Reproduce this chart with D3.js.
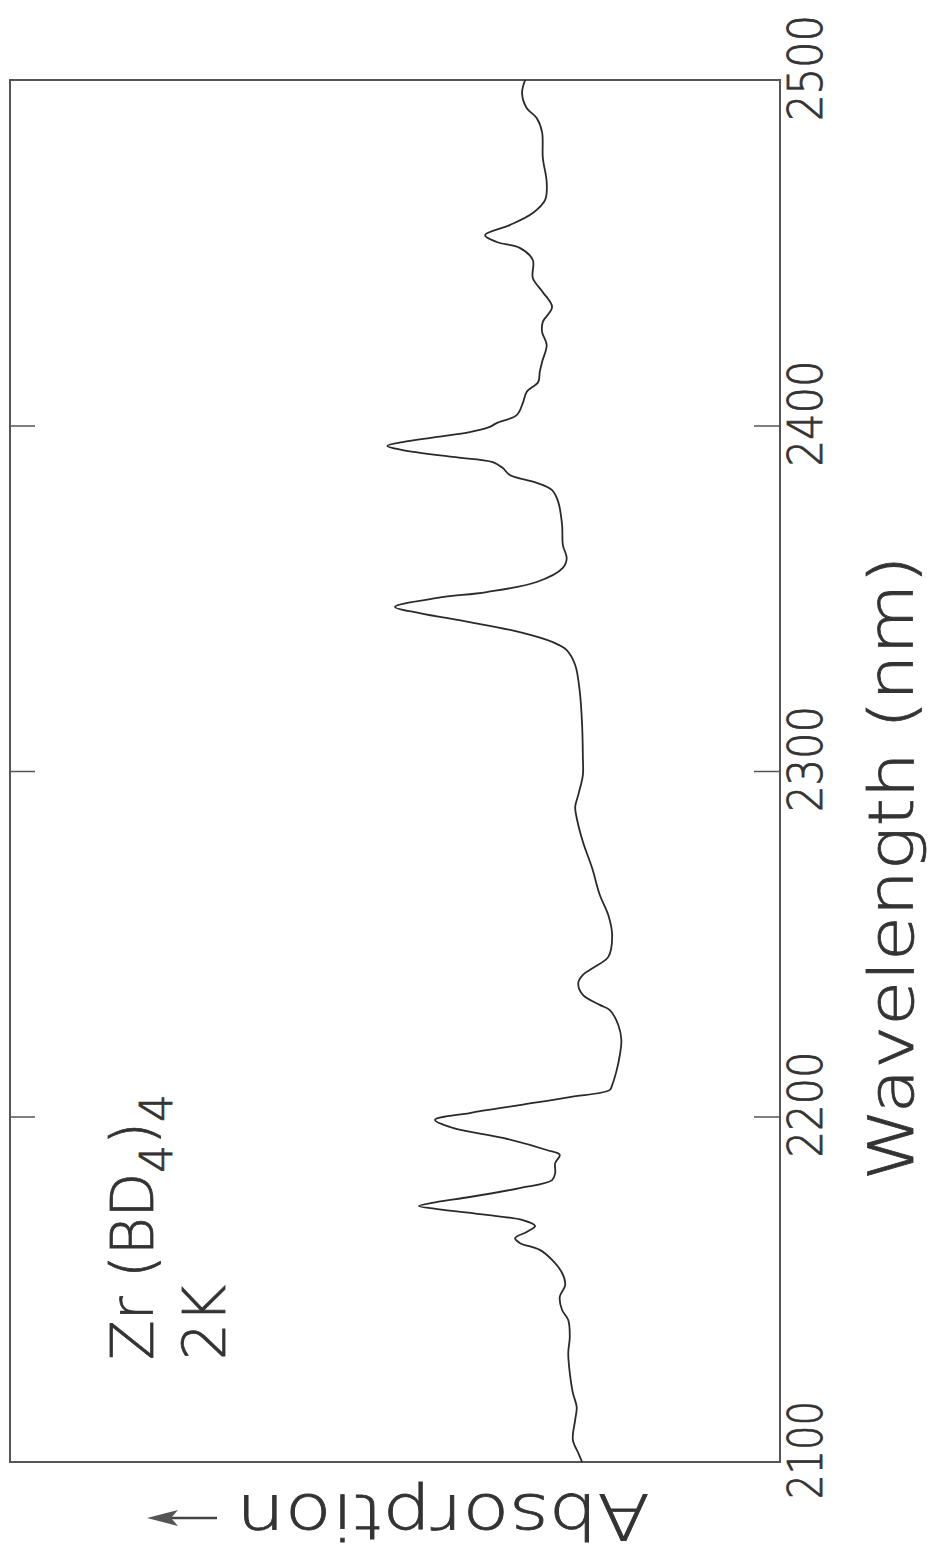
<!DOCTYPE html>
<html lang="en">
<head>
<meta charset="UTF-8">
<title>Zr(BD4)4 2K absorption</title>
<script src="https://d3js.org/d3.v7.min.js"></script>
<style>
  body { margin: 0; background: #fff; }
  svg { display: block; }
  .lbl { font-family: "DejaVu Sans", sans-serif; fill: #333; stroke: #333; stroke-width: 0.8; }
</style>
</head>
<body>
<svg id="chart" width="931" height="1553"></svg>
<script>
// wavelength (nm) and absorption (arb. units, 0-100 across the frame)
const wavelength = [
  2100.0, 2102.6, 2106.4, 2112.2, 2115.9, 2120.0, 2125.8, 2131.5, 2136.2, 2141.1,
  2144.0, 2147.8, 2151.2, 2154.7, 2158.5, 2161.4, 2163.4, 2164.8, 2166.6, 2168.3,
  2170.0, 2171.5, 2173.2, 2174.1, 2175.3, 2176.7, 2179.3, 2181.6, 2183.6, 2186.5,
  2188.9, 2190.3, 2193.8, 2196.7, 2199.0, 2201.0, 2203.3, 2205.6, 2207.7, 2209.1,
  2213.5, 2217.8, 2222.1, 2226.5, 2230.8, 2232.3, 2235.2, 2238.6, 2241.0, 2243.0,
  2246.2, 2252.5, 2258.3, 2264.1, 2271.9, 2279.5, 2286.4, 2289.6, 2293.1, 2298.8,
  2303.8, 2313.3, 2322.9, 2330.7, 2335.0, 2337.3, 2340.2, 2343.1, 2345.7, 2347.5,
  2350.1, 2351.8, 2354.7, 2358.8, 2361.6, 2365.4, 2371.2, 2377.9, 2381.3, 2383.4,
  2385.7, 2387.7, 2389.4, 2390.9, 2392.9, 2394.1, 2395.2, 2396.7, 2398.1, 2399.6,
  2400.7, 2403.0, 2406.5, 2409.7, 2412.6, 2415.5, 2418.4, 2423.3, 2427.1, 2430.0,
  2434.3, 2438.6, 2442.7, 2447.9, 2451.4, 2453.1, 2455.1, 2458.0, 2461.5, 2465.3,
  2470.5, 2477.4, 2484.9, 2489.0, 2491.9, 2496.2, 2500.0
];
const absorption = [
  25.7, 26.2, 26.9, 26.6, 26.4, 26.9, 27.3, 27.5, 27.3, 27.5,
  28.3, 28.6, 27.9, 28.3, 29.6, 31.2, 33.8, 34.4, 32.9, 31.8,
  33.4, 38.1, 44.5, 46.9, 44.5, 40.3, 33.8, 29.6, 29.2, 29.2,
  28.6, 30.3, 36.0, 42.5, 44.8, 40.3, 33.8, 27.3, 22.1, 21.8,
  21.2, 20.8, 20.6, 21.0, 22.1, 23.4, 25.6, 26.2, 25.6, 24.3,
  22.3, 21.8, 22.3, 23.4, 24.4, 25.6, 26.4, 26.6, 26.2, 25.6,
  25.6, 25.7, 26.0, 26.6, 27.7, 29.5, 33.8, 40.3, 46.8, 50.0,
  44.5, 38.1, 31.6, 28.2, 27.7, 28.2, 28.3, 28.8, 29.6, 31.6,
  35.1, 36.0, 37.3, 42.5, 49.0, 51.0, 49.0, 44.5, 40.3, 37.7,
  36.8, 34.2, 33.4, 32.9, 31.4, 31.2, 30.9, 30.3, 30.9, 30.8,
  29.6, 30.8, 32.1, 32.1, 33.8, 36.8, 38.3, 35.1, 32.1, 30.5,
  30.3, 30.8, 30.9, 31.6, 32.9, 33.5, 33.1
];
const tickValues = [2100, 2200, 2300, 2400, 2500];
const innerTicks = [2200, 2300, 2400];
const xTitle = "Wavelength (nm)";
const yTitle = "Absorption";

const svg = d3.select("#chart");

// the figure is printed sideways: wavelength runs bottom->top, absorption grows to the left
const frame = { l: 10, r: 780, t: 80, b: 1462 };
const y = d3.scaleLinear().domain([2100, 2500]).range([frame.b, frame.t]);
const x = d3.scaleLinear().domain([0, 100]).range([frame.r, frame.l]);

// frame
svg.append("rect")
  .attr("x", frame.l).attr("y", frame.t)
  .attr("width", frame.r - frame.l).attr("height", frame.b - frame.t)
  .attr("fill", "none").attr("stroke", "#555").attr("stroke-width", 2);

// inward ticks on both long edges
const tickAxisL = d3.axisRight(y).tickValues(innerTicks).tickSize(25).tickFormat("");
const tickAxisR = d3.axisLeft(y).tickValues(innerTicks).tickSize(26).tickFormat("");
[[tickAxisL, frame.l], [tickAxisR, frame.r]].forEach(([ax, pos]) => {
  const g = svg.append("g").attr("transform", `translate(${pos},0)`).call(ax);
  g.select(".domain").remove();
  g.selectAll("line").attr("stroke", "#555").attr("stroke-width", 1.5);
});

// tick labels, rotated
svg.append("g").selectAll("text")
  .data(tickValues)
  .join("text")
  .attr("class", "lbl")
  .attr("transform", d => `translate(822,${y(d) - 12}) rotate(-90)`)
  .attr("text-anchor", "middle")
  .attr("font-size", 48)
  .attr("font-weight", 300)
  .attr("textLength", d => d === 2100 ? 98 : 106)
  .attr("lengthAdjust", "spacingAndGlyphs")
  .text(d => d);

// spectrum
const pts = wavelength.map((w, i) => [w, absorption[i]]);
const line = d3.line()
  .x(d => x(d[1]))
  .y(d => y(d[0]))
  .curve(d3.curveCatmullRom.alpha(0.5));
svg.append("path")
  .datum(pts)
  .attr("d", line)
  .attr("fill", "none")
  .attr("stroke", "#2a2a2a")
  .attr("stroke-width", 1.8)
  .attr("stroke-linejoin", "round");

// x title (reads bottom to top)
svg.append("text")
  .attr("class", "lbl")
  .attr("transform", "translate(913,868) rotate(-90)")
  .attr("text-anchor", "middle")
  .attr("font-size", 63)
  .attr("font-weight", 300)
  .attr("textLength", 625)
  .attr("lengthAdjust", "spacingAndGlyphs")
  .text(xTitle);

// y title, upside down with arrow
svg.append("text")
  .attr("class", "lbl")
  .attr("transform", "translate(443,1495) rotate(180)")
  .attr("text-anchor", "middle")
  .attr("font-size", 63)
  .attr("font-weight", 300)
  .attr("textLength", 413)
  .attr("lengthAdjust", "spacingAndGlyphs")
  .text(yTitle);
svg.append("line")
  .attr("x1", 217).attr("x2", 165).attr("y1", 1518).attr("y2", 1518)
  .attr("stroke", "#444").attr("stroke-width", 2.5);
svg.append("path")
  .attr("d", "M147,1518 L178,1510 L171,1518 L178,1526 Z")
  .attr("fill", "#555");

// sample label
const lab = svg.append("text")
  .attr("class", "lbl")
  .attr("transform", "translate(153,1360) rotate(-90)")
  .attr("font-size", 58)
  .attr("font-weight", 300);
lab.append("tspan").text("Zr (BD");
lab.append("tspan").attr("font-size", 44).attr("dy", 19).text("4");
lab.append("tspan").attr("dy", -19).text(")");
lab.append("tspan").attr("font-size", 44).attr("dy", 19).text("4");

svg.append("text")
  .attr("class", "lbl")
  .attr("transform", "translate(225,1360) rotate(-90)")
  .attr("font-size", 58)
  .attr("font-weight", 300)
  .text("2K");
</script>
</body>
</html>
